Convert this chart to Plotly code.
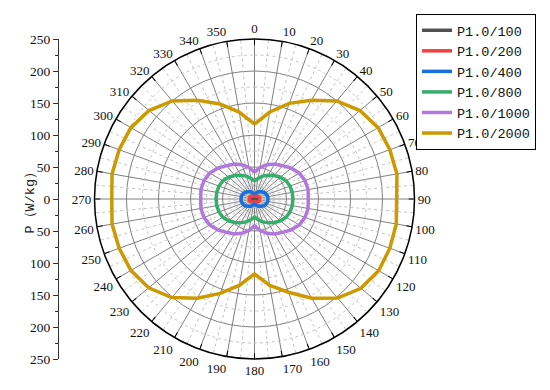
import plotly.graph_objects as go

# ---- data ----
angles = [0, 10, 20, 30, 40, 50, 60, 70, 80, 90, 100, 110, 120, 130, 140, 150, 160, 170,
          180, 190, 200, 210, 220, 230, 240, 250, 260, 270, 280, 290, 300, 310, 320, 330, 340, 350]

names = ["P1.0/100", "P1.0/200", "P1.0/400", "P1.0/800", "P1.0/1000", "P1.0/2000"]

p100 = [0.5, 1, 1.5, 2, 2.5, 3, 3.5, 4, 4.5, 4.5, 4.5, 4, 3.5, 3, 2.5, 2, 1.5, 1,
        0.5, 1, 1.5, 2, 2.5, 3, 3.5, 4, 4.5, 4.5, 4.5, 4, 3.5, 3, 2.5, 2, 1.5, 1]
p200 = [4, 4.3, 4.7, 5.2, 6, 6.8, 7.5, 8, 8.2, 8.2, 8.2, 8, 7.5, 6.8, 6, 5.2, 4.7, 4.3,
        4, 4.3, 4.7, 5.2, 6, 6.8, 7.5, 8, 8.2, 8.2, 8.2, 8, 7.5, 6.8, 6, 5.2, 4.7, 4.3]
p400 = [8, 9, 11, 13, 15, 17, 19, 20, 21, 21, 21, 20, 19, 17, 15, 13, 11, 9,
        8, 9, 11, 13, 15, 17, 19, 20, 21, 21, 21, 20, 19, 17, 15, 13, 11, 9]
p800 = [28, 33, 38, 43, 48, 53, 57, 59, 60, 60, 60, 59, 57, 53, 48, 43, 38, 33,
        28, 33, 38, 43, 48, 53, 57, 59, 60, 60, 60, 59, 57, 53, 48, 43, 38, 33]
p1000 = [42, 50, 57, 63, 68, 75, 81, 84, 85, 84, 85, 84, 81, 75, 68, 63, 57, 50,
         42, 50, 57, 63, 68, 75, 81, 84, 85, 84, 85, 84, 81, 75, 68, 63, 57, 50]
p2000 = [117, 138, 159, 178, 200, 215, 223, 225, 226, 222, 225, 225, 224, 217, 202, 179, 155, 137,
         117, 137, 157, 179, 201, 216, 223, 225, 226, 223, 226, 225, 223, 215, 200, 178, 158, 138]

series = [p100, p200, p400, p800, p1000, p2000]
colors = ["#515151", "#F14040", "#1A6FDF", "#37AD6B", "#B177DE", "#CC9900"]

angle_ticks = list(range(0, 360, 10))
r_max = 250
left_ticks = [-250, -200, -150, -100, -50, 0, 50, 100, 150, 200, 250]
left_text = ["250", "200", "150", "100", "50", "0", "50", "100", "150", "200", "250"]

SERIF = "Liberation Serif"
MONO = "Liberation Mono"

fig = go.Figure()

# dotted minor grid (radial lines at 5-degree offsets)
rr, tt = [], []
for a in range(5, 360, 10):
    rr += [0, r_max, None]
    tt += [a, a, None]
fig.add_trace(go.Scatterpolar(r=rr, theta=tt, mode="lines",
                              line=dict(color="#c4c4c4", width=1, dash="dot"),
                              showlegend=False, hoverinfo="skip"))
# dotted minor circles
rr, tt = [], []
for rad in [25, 75, 125, 175, 225]:
    for a in range(0, 361, 2):
        rr.append(rad)
        tt.append(a)
    rr.append(None)
    tt.append(None)
fig.add_trace(go.Scatterpolar(r=rr, theta=tt, mode="lines",
                              line=dict(color="#c4c4c4", width=1, dash="dot"),
                              showlegend=False, hoverinfo="skip"))

for name, vals, col in zip(names, series, colors):
    fig.add_trace(go.Scatterpolar(
        r=vals + [vals[0]], theta=angles + [angles[0]], mode="lines", name=name,
        line=dict(color=col, width=3.5)))

# dummy trace for the left cartesian axis
fig.add_trace(go.Scatter(x=[0], y=[0], mode="markers", marker=dict(opacity=0),
                         showlegend=False, hoverinfo="skip", xaxis="x", yaxis="y"))

ytop = 1 - 39 / 390
ybot = 1 - 359 / 390

fig.update_layout(
    width=550, height=390,
    margin=dict(l=0, r=0, t=0, b=0, autoexpand=False),
    paper_bgcolor="white", plot_bgcolor="rgba(0,0,0,0)",
    font=dict(family=SERIF, size=12, color="#111"),
    polar=dict(
        domain=dict(x=[94.5 / 550, 414.5 / 550], y=[ybot, ytop]),
        bgcolor="white",
        radialaxis=dict(range=[0, r_max], dtick=50, showticklabels=False, ticks="",
                        showline=False, showgrid=True, gridcolor="#808080", gridwidth=1),
        angularaxis=dict(rotation=90, direction="clockwise",
                         tickmode="array", tickvals=angle_ticks,
                         ticktext=[str(a) for a in angle_ticks],
                         showline=True, linecolor="black", linewidth=1.5,
                         ticks="inside", ticklen=5, tickcolor="black",
                         showgrid=True, gridcolor="#808080", gridwidth=1,
                         tickfont=dict(family=SERIF, size=13, color="#111")),
    ),
    xaxis=dict(domain=[59 / 550, 0.2], visible=False, range=[-1, 1], automargin=False),
    yaxis=dict(domain=[ybot, ytop], anchor="x", range=[-250, 250], automargin=False,
               tickmode="array", tickvals=left_ticks, ticktext=left_text,
               ticks="outside", ticklen=5, tickcolor="#333",
               showline=True, linecolor="#333", linewidth=1,
               showgrid=False, zeroline=False,
               minor=dict(dtick=25, ticks="outside", ticklen=3, tickcolor="#333", showgrid=False),
               tickfont=dict(family=SERIF, size=13.5, color="#111")),
    legend=dict(x=416 / 550, y=1 - 14 / 390, xanchor="left", yanchor="top",
                bordercolor="black", borderwidth=1, bgcolor="white",
                font=dict(family=MONO, size=13.5, color="#111"),
                tracegroupgap=0),
    annotations=[dict(text="P（W/kg）", x=20 / 550, y=1 - 199 / 390, xref="paper", yref="paper",
                      showarrow=False, textangle=-90,
                      font=dict(family=MONO, size=13.5, color="#222"))],
)

fig.write_html("out.html", config={"displayModeBar": False},
               post_script="document.body.style.margin='0';document.body.style.overflow='hidden';")
